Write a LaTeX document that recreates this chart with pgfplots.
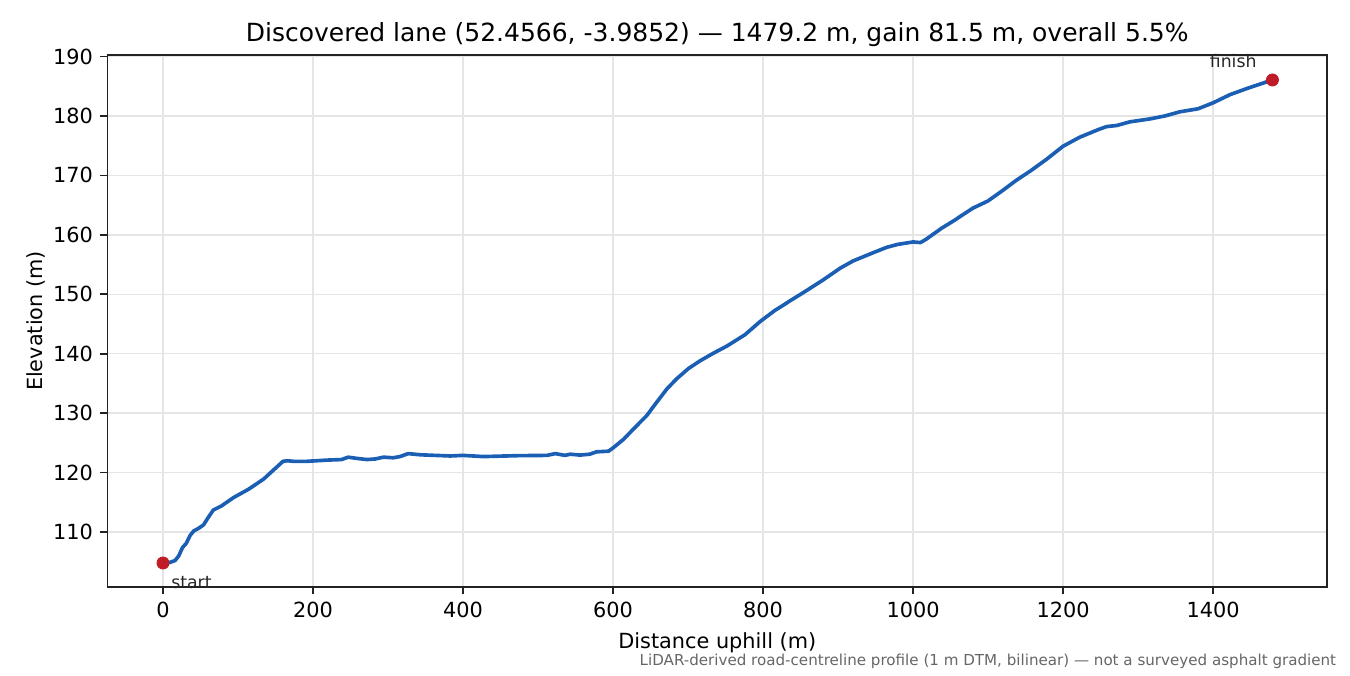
\documentclass[border=0pt]{standalone}
\usepackage{pgfplots}
\pgfplotsset{compat=1.18}
\usepackage{fontspec}
\setmainfont{DejaVu Sans}
\definecolor{lineblue}{HTML}{1A5FB4}
\definecolor{dotred}{HTML}{C01C28}
\definecolor{frame}{HTML}{222222}
\begin{document}
\begin{tikzpicture}[x=0.48pt,y=0.48pt]
\useasboundingbox (-107.5,-88) rectangle (1242.5,587);
\begin{axis}[
  at={(0,0)},anchor=south west,
  scale only axis,
  width=585.36pt,height=255.36pt,
  xmin=-74,xmax=1552,
  ymin=100.76,ymax=190.25,
  xtick={0,200,400,600,800,1000,1200,1400},
  ytick={110,120,130,140,150,160,170,180,190},
  /pgf/number format/assume math mode=true,
  /pgf/number format/1000 sep={},
  tick label style={font=\fontsize{10}{12}\selectfont,color=black},
  tick align=outside,
  tick pos=left,
  major tick length=3.5pt,
  major tick style={line width=0.8pt,color=frame},
  axis line style={line width=0.8pt,color=frame},
  grid=major,
  major grid style={line width=0.7pt,color=black!10,opacity=1},
  xlabel={Distance uphill (m)},
  ylabel={Elevation (m)},
  label style={font=\fontsize{10}{12}\selectfont},
  xlabel style={at={(axis description cs:0.5,0)},anchor=base,yshift=-29.4pt},
  ylabel style={at={(axis description cs:0,0.5)},anchor=base,rotate=0,yshift=31pt},
  title={Discovered lane (52.4566, -3.9852) — 1479.2 m, gain 81.5 m, overall 5.5\%},
  title style={font=\fontsize{12}{14}\selectfont,at={(axis description cs:0.5,1)},anchor=base,yshift=0.4pt},
  clip=false,
]
\addplot[color=lineblue,line width=1.75pt,line join=round,forget plot] coordinates {
(0,104.8)(8,104.85)(16,105.2)(21,106.0)(26,107.4)(31,108.1)(36,109.4)(41,110.2)(47,110.6)(54,111.2)
(59,112.2)(67,113.7)(78,114.4)(94,115.8)(114,117.2)(134,118.9)(147,120.4)(160,121.9)(166,122.0)(174,121.9)
(192,121.9)(218,122.1)(238,122.2)(247,122.6)(258,122.4)(272,122.2)(283,122.3)(294,122.6)(307,122.5)(316,122.7)
(327,123.2)(343,123.0)(383,122.8)(400,122.9)(427,122.7)(472,122.85)(512,122.9)(523,123.2)(536,122.9)(543,123.1)
(556,122.95)(569,123.1)(578,123.5)(594,123.6)(600.5,124.2)(614,125.6)(627,127.3)(645,129.6)(658,131.8)(672,134.1)
(685,135.8)(700.5,137.5)(716,138.8)(734,140.1)(752,141.3)(776,143.2)(796,145.4)(816,147.3)(825,148.0)(836,148.9)
(854,150.3)(880,152.4)(903,154.4)(920,155.6)(947,157.0)(965,157.9)(980,158.4)(1000,158.8)(1010,158.7)(1018,159.3)
(1038,161.1)(1056,162.5)(1063,163.1)(1080,164.5)(1100,165.7)(1120,167.5)(1138,169.2)(1156,170.7)(1178,172.7)(1200,174.9)
(1222,176.4)(1247,177.7)(1258,178.2)(1272,178.4)(1289,179.0)(1316,179.5)(1336,180.0)(1356,180.7)(1380,181.2)(1400,182.2)
(1423,183.6)(1445,184.6)(1479,186.05)
};
\addplot[only marks,mark=*,mark size=2.9pt,color=dotred,mark options={draw=dotred,fill=dotred},forget plot] coordinates {(0,104.8)(1479.2,186.05)};
\node[font=\fontsize{8.3}{10}\selectfont,anchor=base west,inner sep=0pt,color=black!85] at (axis cs:10.5,100.55) {start};
\node[font=\fontsize{8.3}{10}\selectfont,anchor=base east,inner sep=0pt,color=black!85] at (axis cs:1458.5,188.1) {finish};
\end{axis}
\node[font=\fontsize{7.25}{9}\selectfont,anchor=base east,inner sep=0pt,color=black!60] at (1229,-78) {LiDAR-derived road-centreline profile (1 m DTM, bilinear) — not a surveyed asphalt gradient};
\end{tikzpicture}
\end{document}
